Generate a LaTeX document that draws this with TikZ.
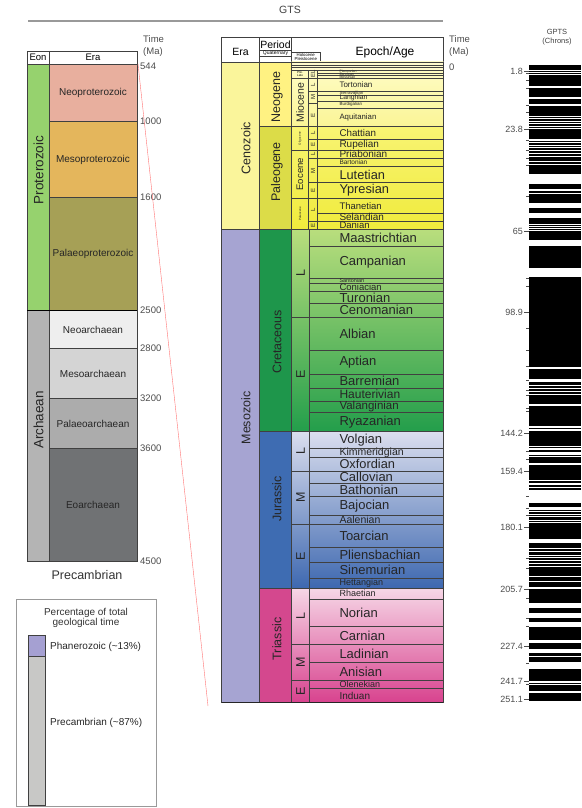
\documentclass[tikz,border=0pt]{standalone}
\usepackage{fontspec}
\setmainfont{Liberation Sans}
\newcommand{\gsize}[1]{\fontsize{#1}{#1}\selectfont}
\definecolor{proterogreen}{RGB}{150,210,110}
\definecolor{archgray}{RGB}{180,180,180}
\definecolor{neoprot}{RGB}{232,175,158}
\definecolor{mesoprot}{RGB}{228,182,92}
\definecolor{palaeoprot}{RGB}{166,160,86}
\definecolor{neoarch}{RGB}{238,238,238}
\definecolor{mesoarch}{RGB}{212,212,212}
\definecolor{palaeoarch}{RGB}{172,172,172}
\definecolor{eoarch}{RGB}{112,114,116}
\definecolor{cenozoic}{RGB}{250,245,155}
\definecolor{quatern}{RGB}{255,250,205}
\definecolor{neogene}{RGB}{255,242,130}
\definecolor{paleogene}{RGB}{220,220,72}
\definecolor{neoageA}{RGB}{255,252,200}
\definecolor{neoageB}{RGB}{250,245,150}
\definecolor{paleoageA}{RGB}{248,244,115}
\definecolor{paleoageB}{RGB}{240,235,60}
\definecolor{mesozoic}{RGB}{166,164,210}
\definecolor{cretaceous}{RGB}{30,150,75}
\definecolor{cretA}{RGB}{185,222,125}
\definecolor{cretB}{RGB}{35,158,75}
\definecolor{jurassic}{RGB}{62,108,178}
\definecolor{jurA}{RGB}{218,222,238}
\definecolor{jurB}{RGB}{62,104,176}
\definecolor{triassic}{RGB}{212,72,142}
\definecolor{triA}{RGB}{246,214,230}
\definecolor{triB}{RGB}{216,66,142}
\definecolor{phanero}{RGB}{165,160,210}
\definecolor{precamb}{RGB}{200,200,198}
\usetikzlibrary{calc}
\tikzset{
    cell/.style={draw=black!75, line width=0.5pt},
    vlabel/.style={rotate=90, text=black!85, font=\gsize{12.5}},
    agelabel/.style={anchor=west, inner sep=0pt, text=black!85},
    timelabel/.style={anchor=west, inner sep=1pt, text=black!70, font=\gsize{9.5}},
    chronlabel/.style={anchor=east, inner sep=1pt, text=black!70, font=\gsize{9}},
}

\begin{document}
\begin{tikzpicture}[x=1pt, y=-1pt]
    \useasboundingbox (0,0) rectangle (581,808);
    \node[font=\gsize{10.5}, text=black!75] (gts) at (290,10) {GTS};
    \draw[black!40, line width=1.2pt] (28,21) -- (443,21);

    % Precambrian column
    \draw[cell, fill=white] (27,51) rectangle (137,64);
    \draw[cell] (49,51) -- (49,64);
    \node[font=\gsize{9.5}] (eonhd) at (38,57.5) {Eon};
    \node[font=\gsize{9.5}] (prehd) at (93,57.5) {Era};
    \draw[cell, fill=proterogreen] (27,64) rectangle (49,310.7);
    \draw[cell, fill=archgray] (27,310.7) rectangle (49,561.7);
    \node[vlabel, font=\gsize{13.5}] (proterozoic) at (38.5,170) {Proterozoic};
    \node[vlabel, font=\gsize{13.5}] (archaean) at (38.5,420) {Archaean};
    \foreach \ta/\tb/\col/\name in {64/121.7/neoprot/Neoproterozoic, 121.7/197.7/mesoprot/Mesoproterozoic, 197.7/310.7/palaeoprot/Palaeoproterozoic, 310.7/348.7/neoarch/Neoarchaean, 348.7/398.3/mesoarch/Mesoarchaean, 398.3/448.7/palaeoarch/Palaeoarchaean, 448.7/561.7/eoarch/Eoarchaean}
    {
        \draw[cell, fill=\col] (49,\ta) rectangle (137,\tb);
        \node[font=\gsize{10}, text=black!85] (\name) at (93,{(\ta+\tb)/2}) {\name};
    }
    \draw[black, line width=0.8pt] (27,310.7) -- (137,310.7);
    \node[timelabel, font=\fontsize{9.5}{12}\selectfont, align=left] (lefttime) at (142,46) {Time\\(Ma)};
    \foreach \y/\t in {66/544, 121.7/1000, 197.7/1600, 310.7/2500, 348.7/2800, 398.3/3200, 448.7/3600, 561.7/4500}
        \node[timelabel] (t\t) at (139,\y) {\t};
    \node[font=\gsize{12.5}, text=black!80] (precambrian) at (87,575) {Precambrian};

    \coordinate (zoomtop) at (138,64);
    \coordinate (zoombot) at (208,706);
    \draw[red!55, line width=0.4pt] (zoomtop) -- (zoombot);

    % legend
    \draw[black!40, line width=0.6pt] (16,599.3) rectangle (156.7,806);
    \node[align=center, font=\fontsize{10}{10.6}\selectfont, text=black!80] (legendhd) at (86,618) {Percentage of total\\geological time};
    \draw[cell, fill=phanero] (28.3,635) rectangle (45.7,656.7);
    \draw[cell, fill=precamb] (28.3,656.7) rectangle (45.7,805);
    \node[agelabel, font=\gsize{10}] (phanlab) at (50,647.3) {Phanerozoic (\textasciitilde13\%)};
    \node[agelabel, font=\gsize{10}] (prelab) at (50,723.3) {Precambrian (\textasciitilde87\%)};

    % Phanerozoic column
    \draw[cell, fill=white] (221.7,37.7) rectangle (443.3,62);
    \draw[cell] (259.3,37.7) -- (259.3,62) (291.7,37.7) -- (291.7,62);
    \draw[cell] (259.3,50.7) rectangle (291.7,56.2);
    \draw[cell] (291.7,52) rectangle (320,62);
    \node[font=\gsize{10.5}] (erahd) at (240.5,52) {Era};
    \node[font=\gsize{10.5}] (periodhd) at (275.5,44.5) {Period};
    \node[font=\gsize{5}, inner sep=0pt] (quathd) at (275.5,53.5) {Quaternary};
    \node[font=\fontsize{4.3}{4.5}\selectfont, align=center, inner sep=0pt] (holohd) at (305.8,57) {Holocene\\Pleistocene};
    \node[font=\gsize{12}] (epochhd) at (385,52) {Epoch/Age};
    \node[timelabel, font=\fontsize{9.5}{12}\selectfont, align=left] (midtime) at (448,46) {Time\\(Ma)};
    \node[timelabel] (t0) at (448,67.7) {0};

    \draw[cell, fill=cenozoic] (221.7,62) rectangle (259.3,229.3);
    \draw[cell, fill=mesozoic] (221.7,229.3) rectangle (259.3,702.7);
    \node[vlabel] (cenozoic) at (246,148) {Cenozoic};
    \node[vlabel] (mesozoic) at (246,418) {Mesozoic};
    \foreach \ta/\tb/\col/\name/\y in {62/126.7/neogene/Neogene/97, 126.7/229.3/paleogene/Paleogene/172, 229.3/431.7/cretaceous/Cretaceous/342, 431.7/588.3/jurassic/Jurassic/499, 588.3/702.7/triassic/Triassic/639}
    {
        \draw[cell, fill=\col] (259.3,\ta) rectangle (291.7,\tb);
        \node[vlabel] (\name) at (277,\y) {\name};
    }
    \foreach \ta/\tb/\ca/\cb in {62/126.7/neoageA/neoageB, 126.7/229.3/paleoageA/paleoageB, 229.3/431.7/cretA/cretB, 431.7/588.3/jurA/jurB, 588.3/702.7/triA/triB}
        \shade[top color=\ca, bottom color=\cb] (291.7,\ta) rectangle (443.3,\tb);
    \foreach \ta/\tb in {62/65, 65/67.5, 67.5/70}
        \draw[cell, fill=quatern] (291.7,\ta) rectangle (443.3,\tb);

    \draw[cell] (291.7,70) rectangle (308.3,78.3);
    \node[font=\fontsize{3}{3.3}\selectfont, align=center, inner sep=0pt] (plio) at (300,74.2) {Plio.\\Late};
    \foreach \ta/\tb/\name/\fs in {78.3/126.7/Miocene/10.5, 126.7/150/Oligocene/3, 150/198.5/Eocene/9.5, 198.5/229.3/Paleocene/3}
    {
        \draw[cell] (291.7,\ta) rectangle (308.3,\tb);
        \node[vlabel, font=\gsize{\fs}, inner sep=0pt] (\name) at (300,{(\ta+\tb)/2}) {\name};
    }
    \foreach \ta/\tb/\lab [count=\i] in {70/78.3/EL, 78.3/91.7/L, 91.7/103.3/M, 103.3/126.7/E, 126.7/139/L, 139/150/E, 150/158.5/L, 158.5/182.5/M, 182.5/198.5/E, 198.5/221.5/L, 221.5/229.3/E}
    {
        \draw[cell] (308.3,\ta) rectangle (317.7,\tb);
        \node[vlabel, font=\gsize{6}, inner sep=0pt] (csub\i) at (313,{(\ta+\tb)/2}) {\lab};
    }
    \foreach \ta/\tb/\name/\fs in {70/73.3/Piacenzian/3.5, 73.3/75.7/Zanclean/3.5, 75.7/78.3/Messinian/3.5, 78.3/91.7/Tortonian/8, 91.7/95/Serravallian/4.5, 95/101/Langhian/6.8, 101/108.3/Burdigalian/4.5, 108.3/126.7/Aquitanian/7.8, 126.7/139/Chattian/9.8, 139/150/Rupelian/10, 150/158.5/Priabonian/10, 158.5/166.5/Bartonian/6.5, 166.5/182.5/Lutetian/12.8, 182.5/198.5/Ypresian/12.8, 198.5/213/Thanetian/9.5, 213/221.5/Selandian/10, 221.5/229.3/Danian/9.5}
    {
        \draw[cell] (317.7,\ta) rectangle (443.3,\tb);
        \node[agelabel, font=\gsize{\fs}] (\name) at (339.3,{(\ta+\tb)/2}) {\name};
    }

    \foreach \ta/\tb/\lab [count=\i] in {229.3/317.3/L, 317.3/431.7/E, 431.7/471/L, 471/524/M, 524/588.3/E, 588.3/644.3/L, 644.3/680/M, 680/702.7/E}
    {
        \draw[cell] (291.7,\ta) rectangle (309.3,\tb);
        \node[vlabel] (msub\i) at (300.5,{(\ta+\tb)/2}) {\lab};
    }
    \foreach \ta/\tb/\name/\fs in {229.3/246.7/Maastrichtian/13, 246.7/278.3/Campanian/13, 278.3/283.3/Santonian/5.5, 283.3/291.7/Coniacian/9.5, 291.7/303.3/Turonian/13, 303.3/317.3/Cenomanian/13, 317.3/350.7/Albian/13, 350.7/374/Aptian/13, 374/388.3/Barremian/13, 388.3/401/Hauterivian/12, 401/412.3/Valanginian/11.5, 412.3/431.7/Ryazanian/13, 431.7/448.3/Volgian/13, 448.3/457.7/Kimmeridgian/10.5, 457.7/471/Oxfordian/12.8, 471/483.3/Callovian/13, 483.3/496.7/Bathonian/13, 496.7/515/Bajocian/13, 515/524/Aalenian/10.5, 524/547.7/Toarcian/13, 547.7/562.3/Pliensbachian/13, 562.3/578.3/Sinemurian/13, 578.3/588.3/Hettangian/9, 588.3/599/Rhaetian/9, 599/626.7/Norian/13, 626.7/644.3/Carnian/13, 644.3/662.7/Ladinian/13, 662.7/680/Anisian/13, 680/688.3/Olenekian/9, 688.3/702.7/Induan/10}
    {
        \draw[cell] (309.3,\ta) rectangle (443.3,\tb);
        \node[agelabel, font=\gsize{\fs}] (\name) at (339.3,{(\ta+\tb)/2}) {\name};
    }
    \draw[cell] (221.7,62) rectangle (443.3,702.7);
    \draw[black!85, line width=1.2pt] (221.7,702.7) -- (443.3,702.7);

    % GPTS
    \node[font=\fontsize{7.5}{8.5}\selectfont, align=center, text=black!75] (gpts) at (557,37) {GPTS\\(Chrons)};
    \fill[black] (529.3,65) rectangle (581,701);
    \foreach \a/\b in {70/71, 71.7/72.7, 74/75, 86/87.7, 97.3/98.7, 104.3/106, 115.5/116.5, 118.2/119.2, 120.5/121.5, 122.8/123.8, 125.5/126.5, 127.8/128.8, 139.3/140.7, 142.2/143.2, 144.8/145.8, 147.2/148.2, 150.2/151.2, 152.8/153.8, 155.5/156.5, 161.2/162.2, 163.8/164.8, 174/184, 189.3/191, 192.5/193.5, 202.7/208.3, 212.7/218.3, 223.5/224.5, 225.7/226.7, 228/229, 230.3/231.3, 240/246, 268.3/277.3, 366.7/368.7, 379.3/382, 384.5/385.5, 387.8/388.8, 390.5/391.5, 393.5/394.5, 404/406, 426/428.3, 429.3/430.8, 446/447.3, 448.3/449.8, 451.7/455, 456/457.3, 463.3/465, 479.5/480.5, 483.3/485.3, 486.8/487.8, 490/503.3, 507.3/510, 511/512, 513.5/515, 516.2/517.2, 519.5/520.5, 522.2/523.2, 539.3/543.3, 547.8/548.8, 551.2/552.2, 554.5/555.5, 557.2/558.2, 560.2/561.2, 562.8/563.8, 566.2/567.2, 575.5/576.5, 581.2/582.2, 586.7/589.3, 603.3/608.3, 612.7/618.3, 621.7/626.7, 640/643.3, 649.3/652.7, 656.2/657.2, 661.7/669.3, 681/682.7, 684/685.3, 690.7/693.3}
        \fill[white] (529.3,\a) rectangle (581,\b);
    \foreach \y in {73.3, 80.7, 88.3, 105, 112.7, 140, 150, 158.3, 165, 196.7, 278.3, 286.7, 328.3, 350, 366.7, 380, 390, 395, 408.3, 411.7, 451.7, 459, 496.7, 508.3, 515, 558.3, 568.3, 598.3, 618.3, 626.7, 663.3, 684}
        \draw[black!70, line width=0.5pt] (526,\y) -- (529.3,\y);
    \foreach \y/\t [count=\i] in {71.7/1.8, 129.3/23.8, 231.7/65, 312/98.9, 433.3/144.2, 471/159.4, 527.7/180.1, 589.3/205.7, 646.7/227.4, 681/241.7, 699.3/251.1}
    {
        \draw[black!70, line width=0.6pt] (524,\y) -- (529.3,\y);
        \node[chronlabel] (chron\i) at (524,\y) {\t};
    }
\end{tikzpicture}
\end{document}
